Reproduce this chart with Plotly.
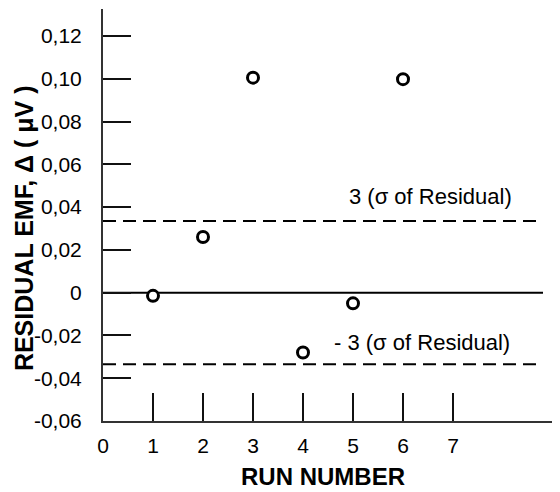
import plotly.graph_objects as go

# Data
run_number = [1, 2, 3, 4, 5, 6]
residual = [-0.0015, 0.026, 0.1005, -0.028, -0.005, 0.0998]
sigma3 = 0.0335
ref_x = [0, 8.8]
dash_x = [0, 8.75]

y_tickvals = [-0.06, -0.04, -0.02, 0, 0.02, 0.04, 0.06, 0.08, 0.10, 0.12]
y_ticktext = ["-0,06", "-0,04", "-0,02", "0", "0,02", "0,04", "0,06", "0,08", "0,10", "0,12"]
x_tickvals = [0, 1, 2, 3, 4, 5, 6, 7]
x_ticktext = ["0", "1", "2", "3", "4", "5", "6", "7"]

FONT = "Arial, 'Liberation Sans', sans-serif"
INK = "#000000"

fig = go.Figure()

# zero line
fig.add_trace(go.Scatter(x=ref_x, y=[0, 0], mode="lines",
                         line=dict(color=INK, width=2), hoverinfo="skip"))
# +/- 3 sigma dashed lines
fig.add_trace(go.Scatter(x=dash_x, y=[sigma3, sigma3], mode="lines",
                         line=dict(color=INK, width=2, dash="13px,7px"), hoverinfo="skip"))
fig.add_trace(go.Scatter(x=dash_x, y=[-sigma3, -sigma3], mode="lines",
                         line=dict(color=INK, width=2, dash="13px,7px"), hoverinfo="skip"))
# residual points
fig.add_trace(go.Scatter(x=run_number, y=residual, mode="markers",
                         marker=dict(symbol="circle", size=11, color="white",
                                     line=dict(color="black", width=3))))

fig.add_annotation(x=6.54, y=0.0449, xref="x", yref="y", text="3 (σ of Residual)",
                   showarrow=False, font=dict(family=FONT, size=22, color=INK),
                   xanchor="center", yanchor="middle")
fig.add_annotation(x=6.38, y=-0.0231, xref="x", yref="y", text="- 3 (σ of Residual)",
                   showarrow=False, font=dict(family=FONT, size=22, color=INK),
                   xanchor="center", yanchor="middle")

# axis titles
fig.add_annotation(x=-0.173, y=0.468, xref="paper", yref="paper",
                   text="<b>RESIDUAL EMF, Δ ( μV )</b>", textangle=-90,
                   showarrow=False, font=dict(family=FONT, size=25, color=INK),
                   xanchor="center", yanchor="middle")
fig.add_annotation(x=0.481, y=-0.1335, xref="paper", yref="paper",
                   text="<b>RUN NUMBER</b>",
                   showarrow=False, font=dict(family=FONT, size=24, color=INK),
                   xanchor="center", yanchor="middle")

fig.update_xaxes(range=[0, 9.14], tickvals=x_tickvals, ticktext=x_ticktext,
                 ticks="inside", ticklen=28, tickwidth=1.5, tickcolor="#111111",
                 showline=True, linecolor="#333333", linewidth=2,
                 showgrid=False, zeroline=False,
                 tickfont=dict(family=FONT, size=21, color=INK),
                 ticklabelstandoff=5)
fig.update_yaxes(range=[-0.06, 0.1326], tickvals=y_tickvals, ticktext=y_ticktext,
                 ticks="inside", ticklen=28, tickwidth=1.5, tickcolor="#111111",
                 showline=True, linecolor="#333333", linewidth=2,
                 showgrid=False, zeroline=False,
                 tickfont=dict(family=FONT, size=21, color=INK),
                 ticklabelstandoff=15)

# page body has an 8px default margin: compensate so the plot area lands where the reference has it
fig.update_layout(width=552, height=484, showlegend=False,
                  margin=dict(l=95, r=0, t=1, b=71, autoexpand=False),
                  plot_bgcolor="white", paper_bgcolor="white")

fig.write_html("out.html")
